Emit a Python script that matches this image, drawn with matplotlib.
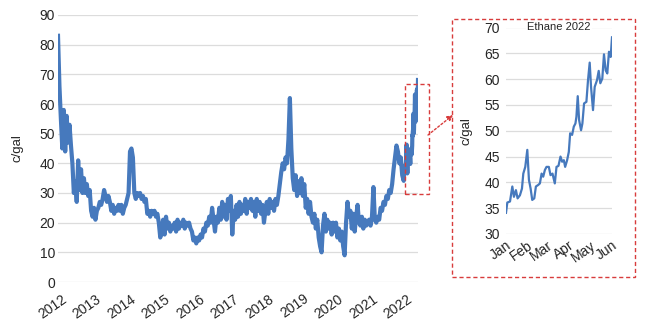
import matplotlib
matplotlib.use('Agg')
import matplotlib.pyplot as plt
from matplotlib.patches import Rectangle, FancyArrowPatch
import matplotlib.transforms as mtransforms
import numpy as np

plt.rcParams['font.family'] = ['Liberation Sans', 'DejaVu Sans']

# ---- data: ethane price, c/gal, semi-monthly 2012-2021 ----
v2012 = [83, 66, 55, 45, 58, 44, 56, 47, 53, 46, 40, 30, 34, 27, 41, 31, 38, 30, 35, 30, 33, 29, 31, 24]
v2013 = [22, 25, 21, 24, 25, 27, 26, 28, 31, 29, 27, 29, 27, 24, 26, 23, 25, 24, 26, 24, 26, 23, 25, 26]
v2014 = [28, 30, 44, 45, 42, 30, 28, 30, 29, 30, 28, 29, 27, 28, 23, 24, 22, 24, 23, 24, 22, 23, 20, 15]
v2015 = [17, 21, 16, 22, 18, 20, 17, 19, 18, 20, 17, 21, 18, 20, 19, 21, 18, 20, 19, 20, 18, 17, 14, 15]
v2016 = [13, 15, 14, 16, 15, 18, 17, 20, 19, 22, 20, 25, 21, 17, 22, 20, 25, 21, 27, 22, 26, 21, 28, 24]
v2017 = [29, 16, 24, 21, 26, 22, 27, 23, 26, 24, 28, 23, 27, 25, 28, 24, 27, 22, 28, 24, 27, 23, 26, 20]
v2018 = [24, 27, 23, 28, 25, 27, 24, 28, 26, 29, 33, 37, 40, 38, 42, 40, 48, 62, 45, 35, 31, 36, 29, 34]
v2019 = [30, 35, 29, 33, 25, 28, 23, 27, 22, 20, 23, 18, 21, 15, 12, 10, 19, 23, 17, 21, 18, 20, 16, 20]
v2020 = [17, 20, 15, 18, 14, 17, 12, 9, 20, 27, 22, 24, 18, 23, 17, 22, 26, 20, 19, 22, 18, 21, 19, 20]
v2021 = [21, 19, 22, 32, 21, 20, 22, 21, 25, 24, 27, 26, 29, 28, 31, 30, 33, 38, 42, 46, 44, 40, 42, 36]

# ---- 2022 detail (day of year, c/gal) ----
days_2022 = [0.7, 2.6, 6.4, 9.7, 12, 14.8, 17.2, 20.5, 23.4, 25.3, 28.1, 31, 33.3, 35.7, 38,
             40.9, 43.2, 46.5, 48.9, 51.3, 53.6, 56, 58.3, 61.6, 64, 66.8, 70.1, 72.5, 75.3,
             78.2, 80.5, 82.9, 84.8, 87.6, 90, 91.9, 94.7, 97.1, 99.4, 100.8, 102.7, 104.6,
             107.4, 109.3, 111.7, 115, 117.3, 119.7, 121.6, 124.4, 126.8, 130.1, 132.5,
             134.8, 137.6, 140, 142.4, 144.7, 147.1, 149.5, 151.4]
vals_2022 = [34.1, 36.1, 36.3, 39.2, 37.2, 38.5, 36.9, 37.5, 38.8, 41.7, 43, 46.3, 40.5, 38.8, 36.6,
             36.9, 39.2, 39.5, 39.8, 41.7, 41.1, 42.4, 43, 43, 41.4, 41.7, 39.8, 43, 43.2,
             45, 44, 44.3, 43, 44.3, 45.9, 49.5, 49.2, 50.8, 51.4, 52.7, 56.7, 52.1,
             50.1, 51.4, 55.3, 55.6, 59.8, 63.2, 58.5, 54, 58.5, 59.8, 61.6,
             59.2, 60.1, 64.8, 61.7, 61.1, 65.3, 64.3, 68.1]

year_labels = ['2012', '2013', '2014', '2015', '2016', '2017', '2018', '2019', '2020', '2021', '2022']
month_labels = ['Jan', 'Feb', 'Mar', 'Apr', 'May', 'Jun']
month_days = [0, 31, 59, 90, 120, 151]

hist = np.array(v2012 + v2013 + v2014 + v2015 + v2016 + v2017 + v2018 + v2019 + v2020 + v2021, float)
hist_x = 2012 + np.arange(len(hist)) / 24.0
d22 = np.array(days_2022)
main_x = np.concatenate([hist_x, 2022 + d22 / 365.0])
main_y = np.concatenate([hist, np.array(vals_2022)])

blue = '#4679bd'
red = '#d83c3c'
grid_c = '#dcdcdc'
txt_c = '#262626'

fig = plt.figure(figsize=(6.5, 3.25), dpi=100)
fig.patch.set_facecolor('white')

# ---- main chart ----
ax = fig.add_axes([58/650, 1-282/325, 360/650, 267/325])
ax.plot(main_x, main_y, color=blue, lw=3.0, solid_joinstyle='round', zorder=3)
ax.set_xlim(2012, main_x[-1])
ax.set_ylim(0, 90)
ax.set_yticks(np.arange(0, 91, 10))
ax.set_xticks([int(y) for y in year_labels])
ax.set_xticklabels(year_labels, rotation=35, ha='right', rotation_mode='anchor')
ax.tick_params(axis='both', length=0, labelsize=10, colors=txt_c)
ax.tick_params(axis='y', pad=2)
ax.tick_params(axis='x', pad=7)
shift = mtransforms.ScaledTranslation(3/100, 0, fig.dpi_scale_trans)
for lab in ax.get_xticklabels():
    lab.set_transform(lab.get_transform() + shift)
ax.grid(axis='y', color=grid_c, lw=0.9, zorder=0)
ax.set_axisbelow(True)
for s in ax.spines.values():
    s.set_visible(False)
ax.set_ylabel('c/gal', fontsize=9.5, color=txt_c)
ax.yaxis.set_label_coords(-0.097, 0.5)

# ---- inset ----
ax2 = fig.add_axes([505.5/650, 1-234/325, 106.5/650, 206.5/325])
ax2.plot(d22, vals_2022, color=blue, lw=1.6, solid_joinstyle='round', zorder=3)
ax2.set_xlim(0, d22[-1])
ax2.set_ylim(30, 70)
ax2.set_yticks(np.arange(30, 71, 5))
ax2.set_xticks(month_days)
ax2.set_xticklabels(month_labels, rotation=35, ha='right', rotation_mode='anchor')
ax2.tick_params(axis='both', length=0, labelsize=10, colors=txt_c)
ax2.tick_params(axis='y', pad=4)
ax2.tick_params(axis='x', pad=3)
ax2.grid(axis='y', color=grid_c, lw=0.9, zorder=0)
ax2.set_axisbelow(True)
for s in ax2.spines.values():
    s.set_visible(False)
ax2.set_ylabel('c/gal', fontsize=9.5, color=txt_c)
ax2.yaxis.set_label_coords(-0.31, 0.5)
ax2.text(0.5, 1.0, 'Ethane 2022', transform=ax2.transAxes, ha='center', va='center',
         fontsize=8, color=txt_c, bbox=dict(fc='white', ec='none', pad=1), zorder=4)

# ---- annotation boxes and arrow (figure coords) ----
def fig_rect(x0, y0, x1, y1):
    r = Rectangle((x0/650, 1-y1/325), (x1-x0)/650, (y1-y0)/325, transform=fig.transFigure,
                  fill=False, ec=red, lw=1.0, ls=(0, (3, 2)))
    fig.add_artist(r)

fig_rect(405, 84, 429, 194)
fig_rect(452, 19, 635, 277)
arr = FancyArrowPatch((428/650, 1-135/325), (453/650, 1-115/325), transform=fig.transFigure,
                      arrowstyle='-|>', mutation_scale=8, color=red, lw=1.0, ls=(0, (1.5, 1.5)),
                      shrinkA=0, shrinkB=0)
fig.add_artist(arr)

fig.savefig('out.png', dpi=100, facecolor='white')
